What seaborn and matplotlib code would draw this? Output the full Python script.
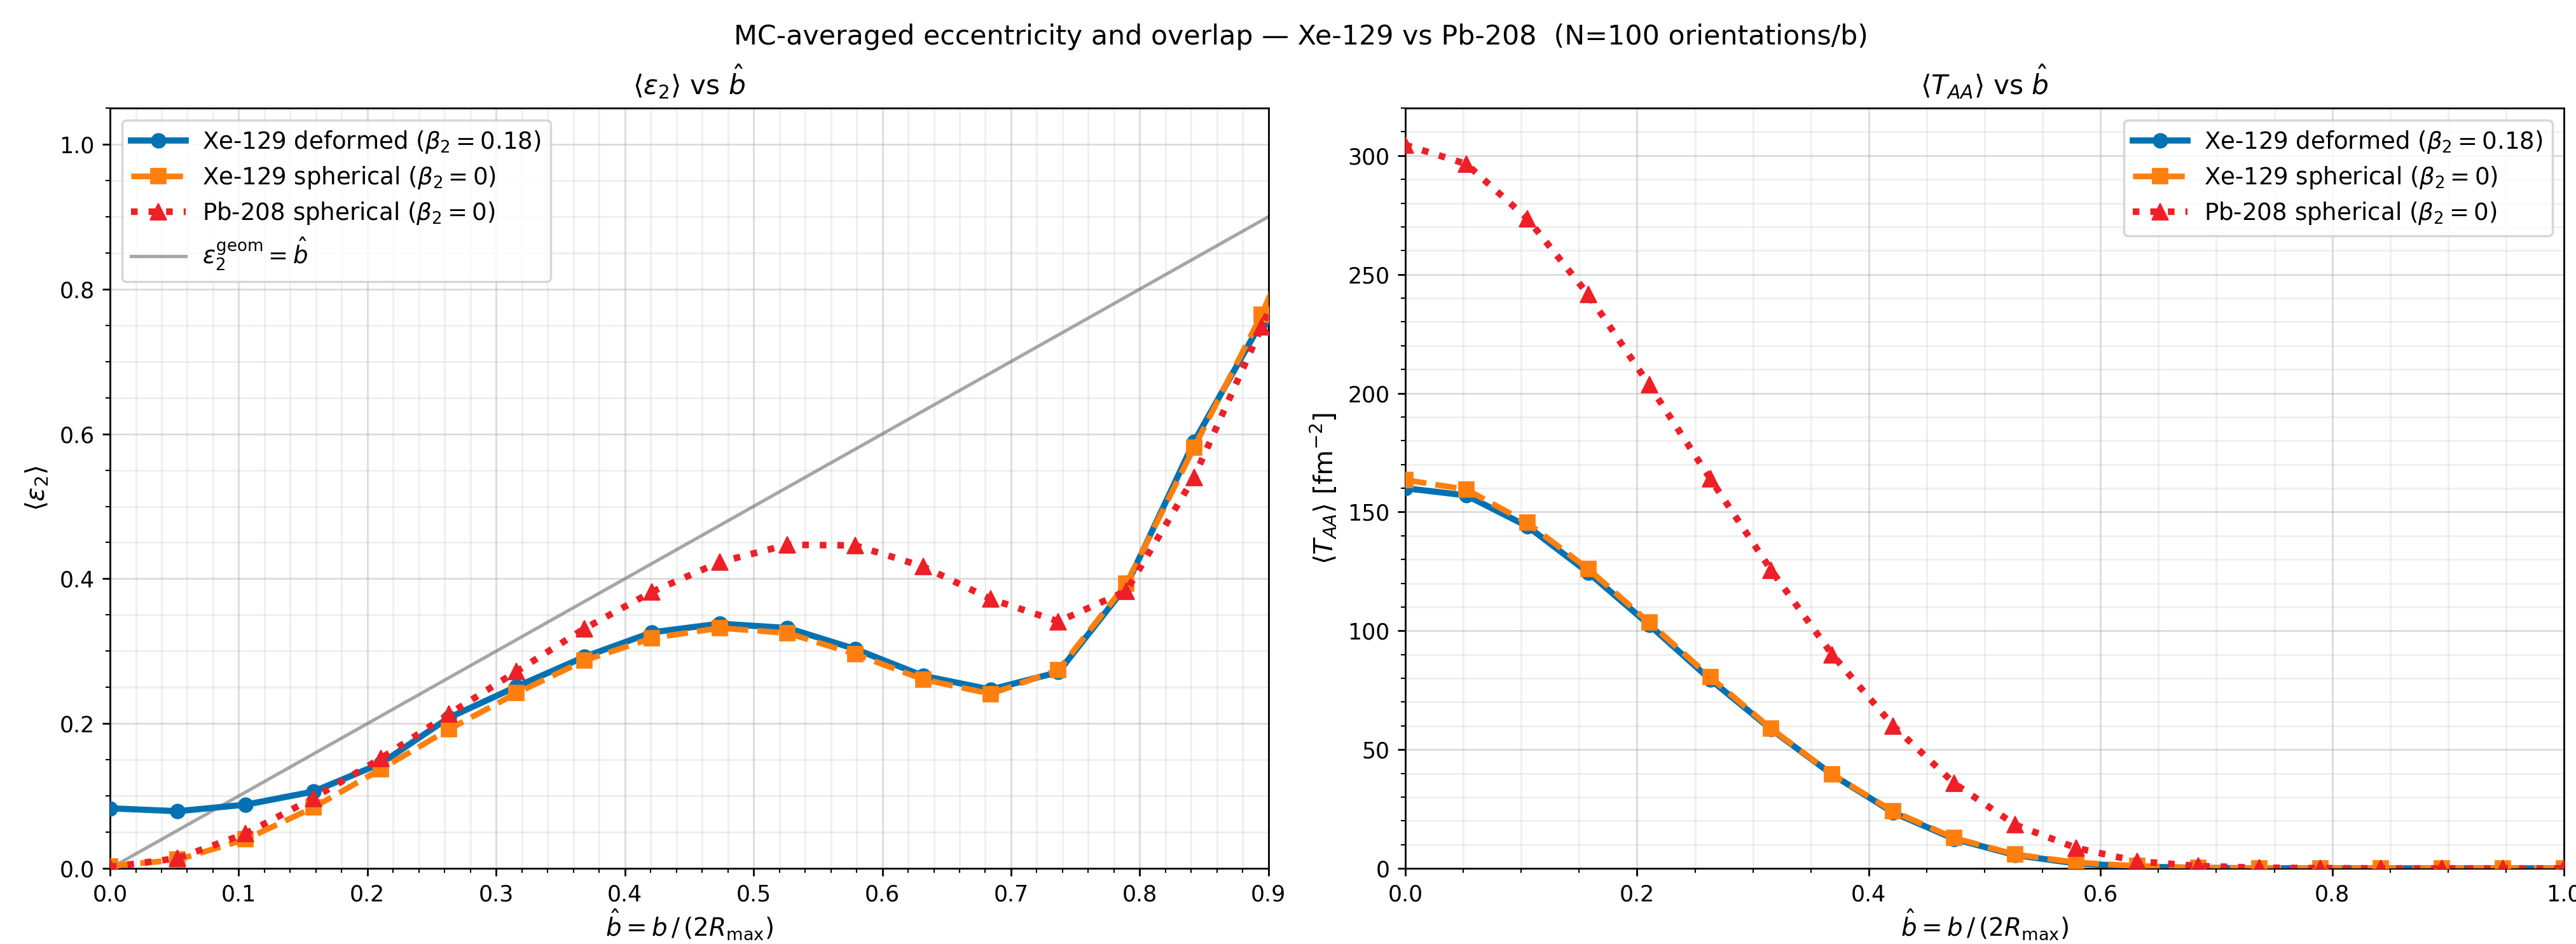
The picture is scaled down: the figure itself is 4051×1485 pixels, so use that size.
import numpy as np
import pandas as pd
import matplotlib
matplotlib.use("Agg")
import matplotlib.pyplot as plt
import seaborn as sns

# ---------------- data ----------------
b_hat = [0.0, 0.0526, 0.1053, 0.1579, 0.2105, 0.2632, 0.3158, 0.3684, 0.4211, 0.4737,
         0.5263, 0.5789, 0.6316, 0.6842, 0.7368, 0.7895, 0.8421, 0.8947, 0.9474, 1.0]

eps2_xe_def = [0.083, 0.079, 0.088, 0.106, 0.145, 0.208, 0.251, 0.292, 0.326, 0.338,
               0.332, 0.303, 0.266, 0.247, 0.271, 0.390, 0.589, 0.755, 0.97, np.nan]
eps2_xe_sph = [0.003, 0.012, 0.040, 0.084, 0.137, 0.192, 0.242, 0.287, 0.318, 0.332,
               0.325, 0.296, 0.261, 0.241, 0.274, 0.393, 0.581, 0.765, 0.98, np.nan]
eps2_pb_sph = [0.002, 0.014, 0.048, 0.097, 0.152, 0.213, 0.272, 0.331, 0.382, 0.423,
               0.447, 0.446, 0.417, 0.372, 0.341, 0.383, 0.540, 0.748, 0.96, np.nan]

taa_xe_def = [160.0, 157.0, 144.0, 124.5, 102.5, 79.5, 58.5, 39.5, 23.5, 12.4,
              5.6, 2.1, 0.8, 0.2, 0.05, 0.0, 0.0, 0.0, 0.0, 0.0]
taa_xe_sph = [163.5, 159.5, 145.5, 126.0, 103.5, 80.5, 58.8, 39.6, 24.0, 12.8,
              5.9, 2.5, 1.0, 0.3, 0.1, 0.0, 0.0, 0.0, 0.0, 0.0]
taa_pb_sph = [304.5, 296.5, 273.5, 241.5, 203.5, 164.0, 125.5, 90.0, 60.0, 35.8,
              18.4, 8.6, 3.0, 1.0, 0.3, 0.1, 0.0, 0.0, 0.0, 0.0]

labels = [r"Xe-129 deformed ($\beta_2 = 0.18$)",
          r"Xe-129 spherical ($\beta_2 = 0$)",
          r"Pb-208 spherical ($\beta_2 = 0$)"]
geom_label = r"$\varepsilon_2^{\rm geom} = \hat{b}$"

# ---------------- styles ----------------
colors = ["#0072b2", "#ff7f0e", "#ee1f26"]
markers = ["o", "s", "^"]
lstyles = ["-", "--", ":"]
lws = [2.8, 2.6, 3.0]
mss = [6.5, 7, 7.5]

dpi = 250
fig = plt.figure(figsize=(4052 / dpi, 1485 / dpi), dpi=dpi)
ax1 = fig.add_axes([0.0427, 0.0801, 0.4496, 0.8054])
ax2 = fig.add_axes([0.5454, 0.0801, 0.4497, 0.8054])

eps_series = [eps2_xe_def, eps2_xe_sph, eps2_pb_sph]
taa_series = [taa_xe_def, taa_xe_sph, taa_pb_sph]

for ax, series in ((ax1, eps_series), (ax2, taa_series)):
    for k, ys in enumerate(series):
        df = pd.DataFrame({"b": b_hat, "y": ys}).dropna()
        sns.lineplot(data=df, x="b", y="y", ax=ax, color=colors[k], marker=markers[k],
                     linestyle=lstyles[k], linewidth=lws[k], markersize=mss[k],
                     markeredgecolor=colors[k], markeredgewidth=0.5,
                     label=labels[k], zorder=3 + k * 0.1, estimator=None, sort=False)

# geometric reference line eps2 = b
geom_df = pd.DataFrame({"b": [0.0, 1.0], "y": [0.0, 1.0]})
sns.lineplot(data=geom_df, x="b", y="y", ax=ax1, color="gray", alpha=0.7,
             linewidth=1.5, label=geom_label, zorder=2, estimator=None)

ax1.set_xlim(0, 0.9)
ax1.set_ylim(0, 1.05)
ax2.set_xlim(0, 1.0)
ax2.set_ylim(0, 320)

for ax in (ax1, ax2):
    ax.minorticks_on()
    ax.grid(True, which="major", alpha=0.45, linewidth=0.8)
    ax.grid(True, which="minor", alpha=0.2, linewidth=0.8)
    ax.tick_params(labelsize=10)
    ax.set_xlabel(r"$\hat{b} = b\,/\,(2R_{\max})$", fontsize=11.2, labelpad=1)

ax1.set_ylabel(r"$\langle \varepsilon_2 \rangle$", fontsize=11.8)
ax2.set_ylabel(r"$\langle T_{AA} \rangle$ [fm$^{-2}$]", fontsize=11.8)
ax1.set_title(r"$\langle \varepsilon_2 \rangle$ vs $\hat{b}$", fontsize=12.2)
ax2.set_title(r"$\langle T_{AA} \rangle$ vs $\hat{b}$", fontsize=12.2)

leg_kw = dict(fontsize=10.7, handlelength=2.3, handletextpad=0.7, labelspacing=0.4,
              borderpad=0.4)
ax1.legend(loc="upper left", **leg_kw)
ax2.legend(loc="upper right", **leg_kw)

fig.suptitle("MC-averaged eccentricity and overlap — Xe-129 vs Pb-208  (N=100 orientations/b)",
             fontsize=12.3, x=0.505, y=0.975, va="top")

fig.savefig("out.png", dpi=dpi)
